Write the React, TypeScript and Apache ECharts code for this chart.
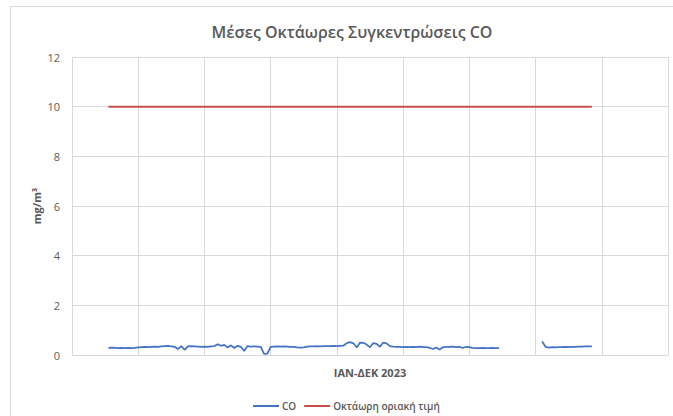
import React, { useEffect, useRef } from "react";
import * as echarts from "echarts";

const TITLE = "Μέσες Οκτάωρες Συγκεντρώσεις CO";
const X_NAME = "ΙΑΝ-ΔΕΚ 2023";
const Y_NAME = "mg/m³";
const SERIES_CO = "CO";
const SERIES_LIMIT = "Οκτάωρη οριακή τιμή";

// Total period slots on the category axis (Excel layout) and where data sits
const SLOT_COUNT = 181;
const LEADING_EMPTY = 11;

// 8-hour mean CO (mg/m³), null = missing data
const coValues: (number | null)[] = [
  0.29, 0.30, 0.29, 0.28, 0.29, 0.28, 0.29, 0.28, 0.29, 0.31,
  0.32, 0.33, 0.32, 0.33, 0.34, 0.33, 0.35, 0.36, 0.37, 0.35,
  0.33, 0.24, 0.36, 0.21, 0.35, 0.36, 0.35, 0.34, 0.33, 0.34,
  0.33, 0.35, 0.36, 0.43, 0.37, 0.41, 0.30, 0.39, 0.28, 0.37,
  0.33, 0.16, 0.36, 0.34, 0.35, 0.34, 0.33, 0.05, 0.06, 0.33,
  0.34, 0.35, 0.34, 0.35, 0.34, 0.33, 0.33, 0.31, 0.30, 0.31,
  0.34, 0.35, 0.35, 0.36, 0.35, 0.36, 0.36, 0.36, 0.37, 0.36,
  0.37, 0.38, 0.48, 0.52, 0.47, 0.30, 0.50, 0.49, 0.42, 0.31,
  0.48, 0.45, 0.33, 0.50, 0.47, 0.36, 0.34, 0.33, 0.33, 0.32,
  0.33, 0.32, 0.33, 0.32, 0.34, 0.32, 0.32, 0.29, 0.24, 0.30,
  0.22, 0.31, 0.33, 0.33, 0.34, 0.32, 0.33, 0.28, 0.33, 0.32,
  0.29, 0.28, 0.28, 0.29, 0.28, 0.28, 0.29, 0.28, 0.28,
  null, null, null, null, null, null, null, null, null, null, null, null,
  0.55, 0.33, 0.30, 0.32, 0.31, 0.32, 0.32, 0.33, 0.32, 0.33,
  0.33, 0.34, 0.34, 0.35, 0.35, 0.35,
];

const LIMIT_VALUE = 10;

const Y_MIN = 0;
const Y_MAX = 12;
const Y_STEP = 2;

export default function App() {
  const ref = useRef<HTMLDivElement>(null);

  useEffect(() => {
    if (!ref.current) return;
    const chart = echarts.init(ref.current, null, { renderer: "svg" });

    const categories = Array.from({ length: SLOT_COUNT }, (_, i) => String(i + 1));
    const trailing = SLOT_COUNT - LEADING_EMPTY - coValues.length;
    const coData = [
      ...Array(LEADING_EMPTY).fill(null),
      ...coValues,
      ...Array(trailing).fill(null),
    ];
    const limitData = [
      ...Array(LEADING_EMPTY).fill(null),
      ...coValues.map(() => LIMIT_VALUE),
      ...Array(trailing).fill(null),
    ];

    const font = "'Open Sans', 'Noto Sans', sans-serif";
    const grey = "#595959";
    const gridColor = "#d9d9d9";

    chart.setOption({
      animation: false,
      textStyle: { fontFamily: font },
      title: {
        text: TITLE,
        left: 347,
        textAlign: "center",
        top: 19,
        textStyle: { fontSize: 16, color: grey, fontWeight: 600, fontFamily: font },
      },
      graphic: [
        {
          type: "rect",
          shape: { x: 10.5, y: 6.5, width: 700, height: 500 },
          style: { fill: "none", stroke: gridColor, lineWidth: 1 },
          silent: true,
        },
      ],
      legend: {
        left: 248,
        top: 396,
        icon: "rect",
        itemWidth: 26,
        itemHeight: 2,
        itemGap: 8,
        textStyle: {
          fontSize: 10,
          color: grey,
          fontWeight: 600,
          fontFamily: font,
          padding: [0, 0, 0, -2],
        },
        data: [SERIES_CO, SERIES_LIMIT],
      },
      grid: { left: 72, right: 5, top: 57, bottom: 61, containLabel: false },
      xAxis: {
        type: "category",
        data: categories,
        boundaryGap: false,
        name: X_NAME,
        nameLocation: "middle",
        nameGap: 12,
        nameMoveOverlap: false,
        nameTextStyle: { fontSize: 11, color: grey, fontWeight: "bold", fontFamily: font },
        axisLine: { show: true, lineStyle: { color: gridColor, width: 1 } },
        axisTick: { show: false },
        axisLabel: { show: false },
        splitLine: { show: true, interval: 19, lineStyle: { color: gridColor, width: 1 } },
      },
      yAxis: {
        type: "value",
        min: Y_MIN,
        max: Y_MAX,
        interval: Y_STEP,
        name: Y_NAME,
        nameLocation: "middle",
        nameRotate: 90,
        nameGap: 30,
        nameMoveOverlap: false,
        nameTextStyle: { fontSize: 11, color: grey, fontWeight: "bold", fontFamily: font },
        axisLine: { show: false },
        axisTick: { show: false },
        axisLabel: { color: grey, fontSize: 11, margin: 12, fontFamily: font },
        splitLine: { show: true, lineStyle: { color: gridColor, width: 1 } },
      },
      series: [
        {
          name: SERIES_CO,
          type: "line",
          data: coData,
          showSymbol: false,
          connectNulls: false,
          lineStyle: { color: "#4472C4", width: 1.75 },
          itemStyle: { color: "#4472C4" },
        },
        {
          name: SERIES_LIMIT,
          type: "line",
          data: limitData,
          showSymbol: false,
          lineStyle: { color: "#C8504A", width: 2 },
          itemStyle: { color: "#C8504A" },
        },
      ],
    });

    return () => chart.dispose();
  }, []);

  return (
    <div
      ref={ref}
      style={{ position: "fixed", left: 0, top: 0, width: 673, height: 416, background: "#fff" }}
    />
  );
}
